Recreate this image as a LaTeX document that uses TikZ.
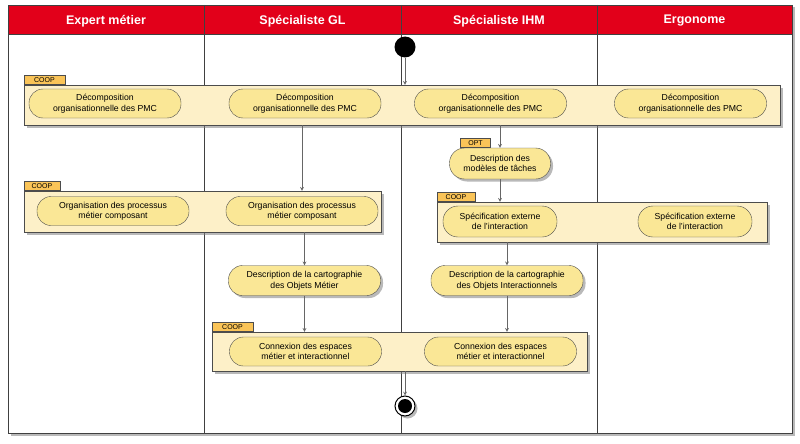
\documentclass[tikz,border=0pt]{standalone}
\usepackage{fontspec}
\setmainfont{Liberation Sans}
\usetikzlibrary{shadows,positioning}
\definecolor{laneRed}{RGB}{226,0,26}
\definecolor{actFill}{RGB}{250,231,150}
\definecolor{grpFill}{RGB}{253,240,200}
\definecolor{tagFill}{RGB}{250,196,88}
\begin{document}
\begin{tikzpicture}[x = 1pt, y = -1pt,
	act/.style = {draw = black!70, fill = actFill, rounded corners = 14pt, minimum width = 152pt, minimum height = 29pt, inner sep = 1pt, align = center, font = \fontsize{8.7}{10.5}\selectfont},
	shade/.style = {drop shadow = {shadow xshift = 2.5pt, shadow yshift = -2.5pt, opacity = 0.55}},
	grp/.style = {draw = black!70, fill = grpFill, shade},
	tag/.style = {draw = black!70, fill = tagFill, anchor = south west, minimum height = 9pt, inner sep = 0.5pt, font = \fontsize{7}{8}\selectfont},
	flow/.style = {-stealth, draw = black!60, line width = 0.7pt},
	lane/.style = {text = white, font = \bfseries\fontsize{12.5}{14}\selectfont}]
\useasboundingbox (0,0) rectangle (800,444);
\filldraw[fill = white, draw = black!75, shade] (8,5) rectangle (792,433);
\fill[laneRed] (8,5) rectangle (792,34);
\draw[black!75] (8,34) -- (792,34);
\foreach \x in {204, 401, 597}
{
	\draw[black!75] (\x,5) -- (\x,433);
}
\draw[black!75] (8,5) rectangle (792,433);
\foreach \x/\t/\n in {106/Expert métier/laneExp, 302.5/Spécialiste GL/laneGL, 499/Spécialiste IHM/laneIHM, 694.5/Ergonome/laneErg}
{
	\node[lane] (\n) at (\x,21) {\t};
}
\node[circle, fill = black, minimum size = 21pt, inner sep = 0pt] (start) at (405,47) {};
\node[grp, minimum width = 756pt, minimum height = 40pt] (grpA) at (402,105) {};
\node[tag, minimum width = 41pt] (tagA) at (grpA.north west) {COOP};
\foreach \x [count = \i] in {105, 305, 490.5, 690.5}
{
	\node[act] (decomp\i) at (\x,103.5) {Décomposition\\organisationnelle des PMC};
}
\node[grp, minimum width = 357pt, minimum height = 41pt] (grpB) at (202.5,211.5) {};
\node[tag, minimum width = 36pt] (tagB) at (grpB.north west) {COOP};
\node[act] (orgA) at (113,211) {Organisation des processus\\métier composant};
\node[act] (orgB) at (302,211) {Organisation des processus\\métier composant};
\node[act, shade, minimum width = 101pt, minimum height = 31pt, rounded corners = 15pt] (taches) at (500,163.5) {Description des\\modèles de tâches};
\node[tag, minimum width = 30pt] (optTag) at ([xshift = 11pt]taches.north west) {OPT};
\node[grp, minimum width = 330pt, minimum height = 40pt] (grpC) at (602,222) {};
\node[tag, minimum width = 38pt] (tagC) at (grpC.north west) {COOP};
\node[act, minimum width = 114pt, minimum height = 31pt, rounded corners = 15pt] (specA) at (500,221.5) {Spécification externe\\de l'interaction};
\node[act, minimum width = 114pt, minimum height = 31pt, rounded corners = 15pt] (specB) at (695,221.5) {Spécification externe\\de l'interaction};
\node[act, shade, minimum height = 30pt] (cartoM) at (304.5,280.5) {Description de la cartographie\\des Objets Métier};
\node[act, shade, minimum height = 30pt] (cartoI) at (507,280.5) {Description de la cartographie\\des Objets Interactionnels};
\node[grp, minimum width = 375pt, minimum height = 39pt] (grpD) at (399.5,351.5) {};
\node[tag, minimum width = 41pt] (tagD) at (grpD.north west) {COOP};
\node[act] (connA) at (305.5,351.5) {Connexion des espaces\\métier et interactionnel};
\node[act] (connB) at (500.5,351.5) {Connexion des espaces\\métier et interactionnel};
\node[circle, draw = black, line width = 1pt, fill = white, minimum size = 20pt, inner sep = 0pt, shade] (stop) at (405,406) {};
\node[circle, fill = black, minimum size = 14pt, inner sep = 0pt] (stopDot) at (stop) {};
\draw[flow] (start) -- (start |- grpA.north);
\draw[flow] (grpA.south -| orgB) -- (orgB |- grpB.north);
\draw[flow] (grpA.south -| taches) -- (taches);
\draw[flow] (taches) -- (taches |- grpC.north);
\draw[flow] (grpB.south -| cartoM) -- (cartoM);
\draw[flow] (grpC.south -| cartoI) -- (cartoI);
\draw[flow] (cartoM) -- (cartoM |- grpD.north);
\draw[flow] (cartoI) -- (cartoI |- grpD.north);
\draw[flow] (grpD.south -| stop) -- (stop);
\end{tikzpicture}
\end{document}
